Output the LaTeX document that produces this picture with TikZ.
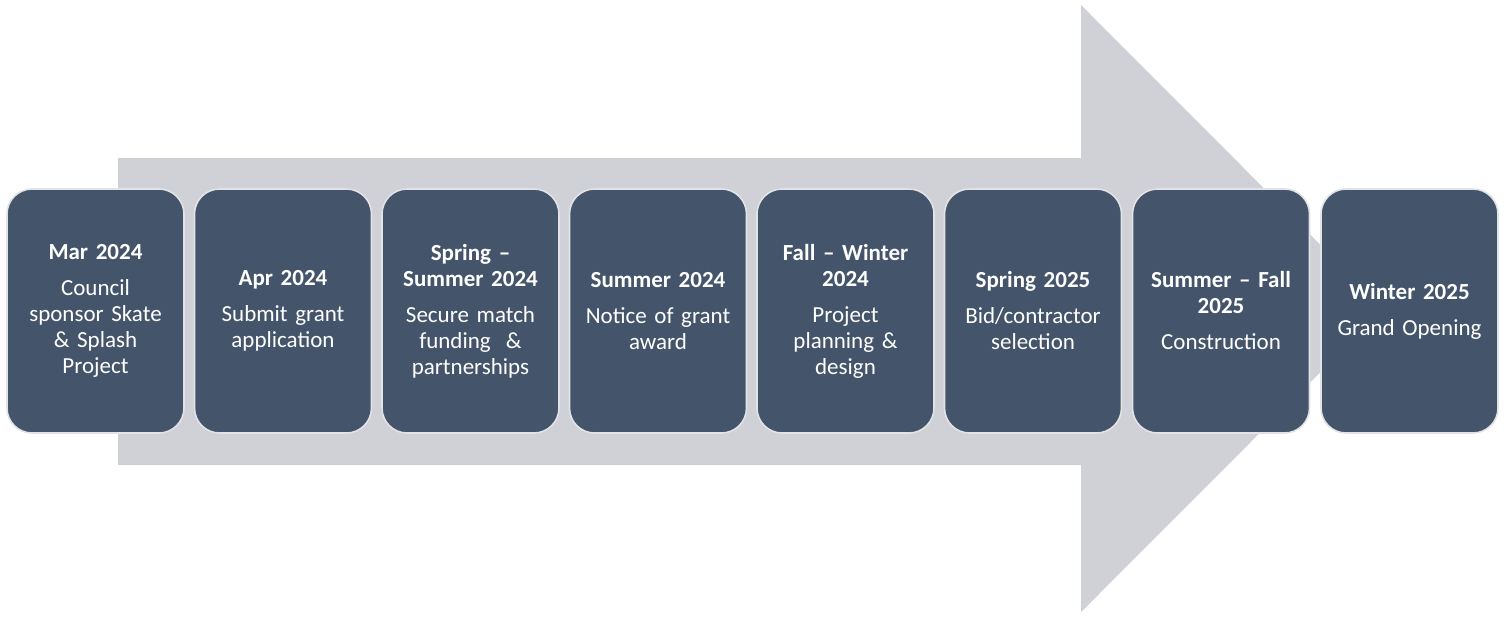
\documentclass[tikz,border=0pt]{standalone}
\usepackage{fontspec}
\setmainfont{Carlito}
\definecolor{slate}{RGB}{68,84,106}
\definecolor{track}{RGB}{207,209,214}
\definecolor{rim}{RGB}{225,227,230}

\begin{document}
\begin{tikzpicture}[x = 0.5pt, y = -0.5pt,
                        stage/.style = {rectangle, rounded corners = 12.5pt, draw = rim, line width = 0.8pt,
                                        fill = slate, text = white, minimum width = 88.5pt, minimum height = 122pt,
                                        text width = 86pt, align = center, inner sep = 0pt,
                                        font = \fontsize{11.5}{13}\selectfont}]
      \useasboundingbox (0, 0) rectangle (1508, 616);

      % big arrow behind the boxes
      \fill [track] (118, 158) -- (1081, 158) -- (1081, 5) -- (1384, 308.5)
                    -- (1081, 612) -- (1081, 465) -- (118, 465) -- cycle;

      \node [stage] (mar) at (95.5, 311){\textbf{Mar 2024}\\[5pt] Council\\ sponsor Skate\\ \& Splash\\ Project};
      \node [stage] (apr) at (283, 311){\textbf{Apr 2024}\\[5pt] Submit grant\\ application};
      \node [stage] (spr) at (470.5, 311){\textbf{Spring --}\\ \textbf{Summer 2024}\\[5pt] Secure match\\ funding \ \&\\ partnerships};
      \node [stage] (sum) at (658, 311){\textbf{Summer 2024}\\[5pt] Notice of grant\\ award};
      \node [stage] (fal) at (845.5, 311){\textbf{Fall -- Winter}\\ \textbf{2024}\\[5pt] Project\\ planning \&\\ design};
      \node [stage] (bid) at (1033, 311){\textbf{Spring 2025}\\[5pt] Bid/contractor\\ selection};
      \node [stage] (con) at (1221, 311){\textbf{Summer -- Fall}\\ \textbf{2025}\\[5pt] Construction};
      \node [stage] (win) at (1409.5, 311){\textbf{Winter 2025}\\[5pt] Grand Opening};
      \end{tikzpicture}
\end{document}
